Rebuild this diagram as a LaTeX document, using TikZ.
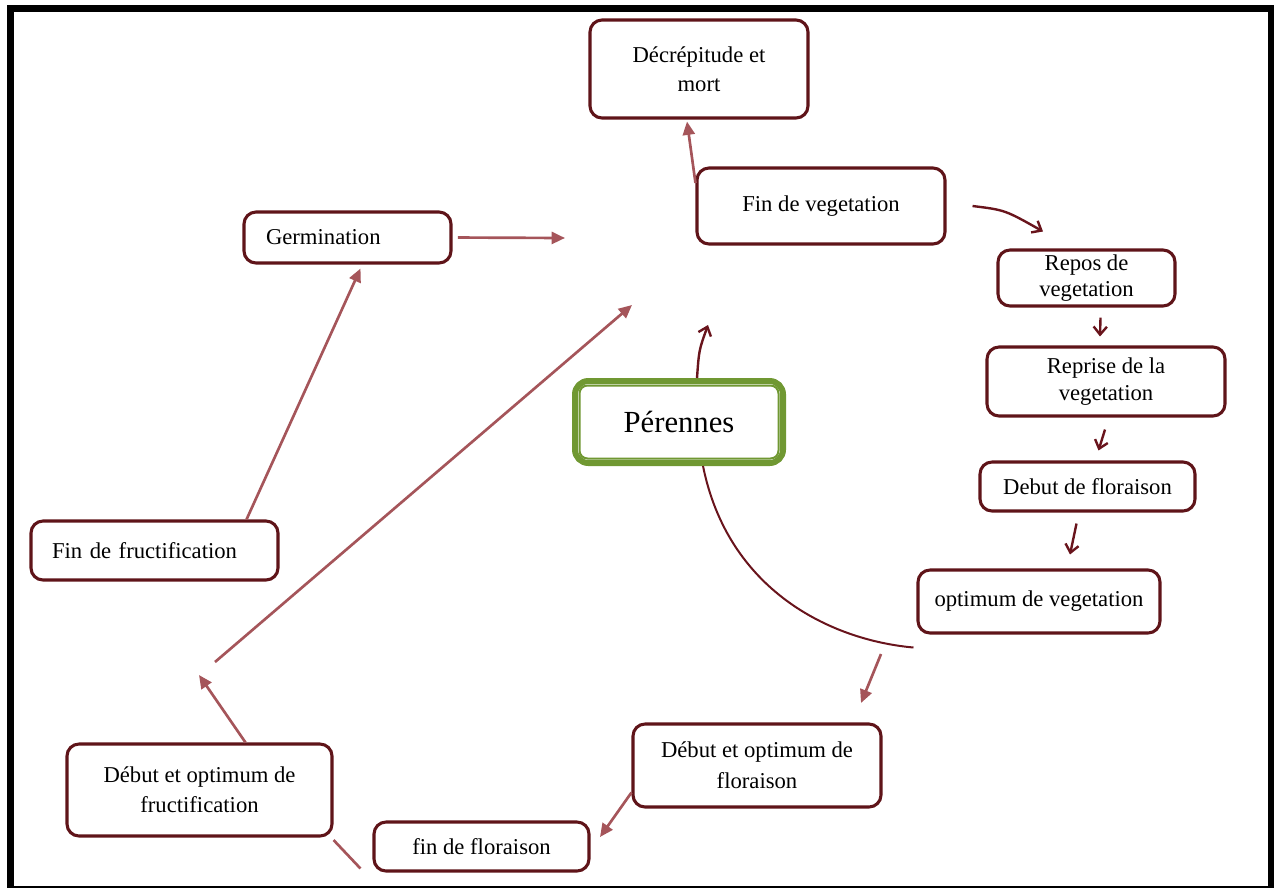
\documentclass[tikz,border=0pt]{standalone}
\usepackage{fontspec}
\setmainfont{Liberation Serif}
\usetikzlibrary{arrows.meta,calc}
\definecolor{boxc}{RGB}{95,20,25}
\definecolor{lightarr}{RGB}{165,85,90}
\definecolor{darkarr}{RGB}{105,20,28}
\definecolor{grn}{RGB}{112,152,50}
\begin{document}
\begin{tikzpicture}[x=0.75pt,y=-0.75pt,
  stagebox/.style={draw=boxc, line width=2.3pt, rounded corners=9pt, fill=white,
    align=center, font=\fontsize{17}{21.5}\selectfont, inner sep=0pt},
  lightline/.style={draw=lightarr, line width=2pt},
  lightarrow/.style={lightline, -{Triangle[length=10pt,width=9pt]}},
  darkarrow/.style={draw=darkarr, line width=1.8pt, -{Straight Barb[length=6pt,width=10pt]}},
  darkline/.style={draw=darkarr, line width=1.5pt}]
\useasboundingbox (0,0) rectangle (1277,890);
% frame
\draw[line width=5.2pt, black] (10.5,887) -- (10.5,8.5) -- (1271,8.5) -- (1271,887);
\draw[line width=1.5pt, black] (7,887) -- (1274,887);

% nodes
\node[stagebox, minimum width=163.5pt, minimum height=73.5pt] (dec) at (699,69) {Décrépitude et\\mort};
\node[stagebox, minimum width=186pt, minimum height=57pt] (fv) at (821,206) {Fin de vegetation};
\node[stagebox, minimum width=155.25pt, minimum height=38.25pt, inner xsep=16.5pt, text width=122.25pt, align=left] (germ) at (347.5,237.5) {Germination};
\node[stagebox, minimum width=132.75pt, minimum height=42pt, font=\fontsize{17}{19.5}\selectfont] (repos) at (1086.5,278) {Repos de\\vegetation};
\node[stagebox, minimum width=178.5pt, minimum height=51.75pt, font=\fontsize{17}{20}\selectfont] (reprise) at (1106,381.5) {Reprise de la\\vegetation};
\node[stagebox, minimum width=161.25pt, minimum height=36.75pt] (debflo) at (1087.5,486.5) {Debut de floraison};
\node[stagebox, minimum width=181.5pt, minimum height=47.25pt] (optveg) at (1039,601.5) {optimum de vegetation};
\node[draw=grn, line width=4.5pt, rounded corners=10pt, fill=white, minimum width=156pt, minimum height=61.5pt,
  font=\fontsize{23}{27}\selectfont, inner sep=0pt] (per) at (679,422) {Pérennes};
\draw[grn, line width=1.5pt, rounded corners=6pt] ([shift={(7.5,7.5)}]per.north west) rectangle ([shift={(-7.5,-7.5)}]per.south east);
\node[stagebox, minimum width=185.25pt, minimum height=44.25pt, inner xsep=15.75pt, text width=153.75pt, align=left] (ffr) at (154.5,550.5) {Fin de fructification};
\node[stagebox, minimum width=186pt, minimum height=62.25pt, font=\fontsize{17}{23}\selectfont] (dopflo) at (757,765.5) {Début et optimum de\\floraison};
\node[stagebox, minimum width=198.75pt, minimum height=69pt, font=\fontsize{17}{22.5}\selectfont] (dofr) at (199.5,790) {Début et optimum de\\fructification};
\node[stagebox, minimum width=161.25pt, minimum height=36.75pt] (fflo) at (481.5,846.5) {fin de floraison};

% free ends
\coordinate (g1) at (565,238);
\coordinate (d1) at (215,662);
\coordinate (d2) at (632,305);
\coordinate (f1) at (199,675);
\coordinate (fl1) at (600,837);
\coordinate (o1) at (881,654);
\coordinate (o2) at (861,703);
\coordinate (p1) at (708,325);

% light connectors
\draw[lightarrow, shorten <=4pt] (germ.east) -- (g1);
\draw[lightarrow] ([shift={(92,0)}]ffr.north) -- ([shift={(13,4)}]germ.south);
\draw[lightarrow] (d1) -- (d2);
\draw[lightarrow] ([shift={(46,0)}]dofr.north) -- (f1);
\draw[lightline] ([shift={(0,50)}]dofr.east) -- ([shift={(-12,22)}]fflo.west);
\draw[lightarrow] ([shift={(0,27)}]dopflo.west) -- (fl1);
\draw[lightarrow] (o1) -- (o2);
\draw[lightarrow] ([shift={(0,-23)}]fv.west) -- ([shift={(-12,2)}]dec.south);

% dark connectors
\draw[darkarrow] ([shift={(26,0)}]fv.east) .. controls (1005,210) .. ([shift={(-43.5,-17)}]repos.north);
\draw[darkarrow] ([shift={(14,10)}]repos.south) -- ([shift={(-6,-9)}]reprise.north);
\draw[darkarrow] ([shift={(-1,12)}]reprise.south) -- ([shift={(11,-10)}]debflo.north);
\draw[darkarrow] ([shift={(-11,11)}]debflo.south) -- ([shift={(31,-14)}]optveg.north);
\draw[darkarrow] ([shift={(18,0)}]per.north) .. controls (699,350) .. (p1);
\draw[darkline] ([shift={(24,0)}]per.south) .. controls (728,590) and (830,640) .. ([shift={(-3,46)}]optveg.west);
\end{tikzpicture}
\end{document}
